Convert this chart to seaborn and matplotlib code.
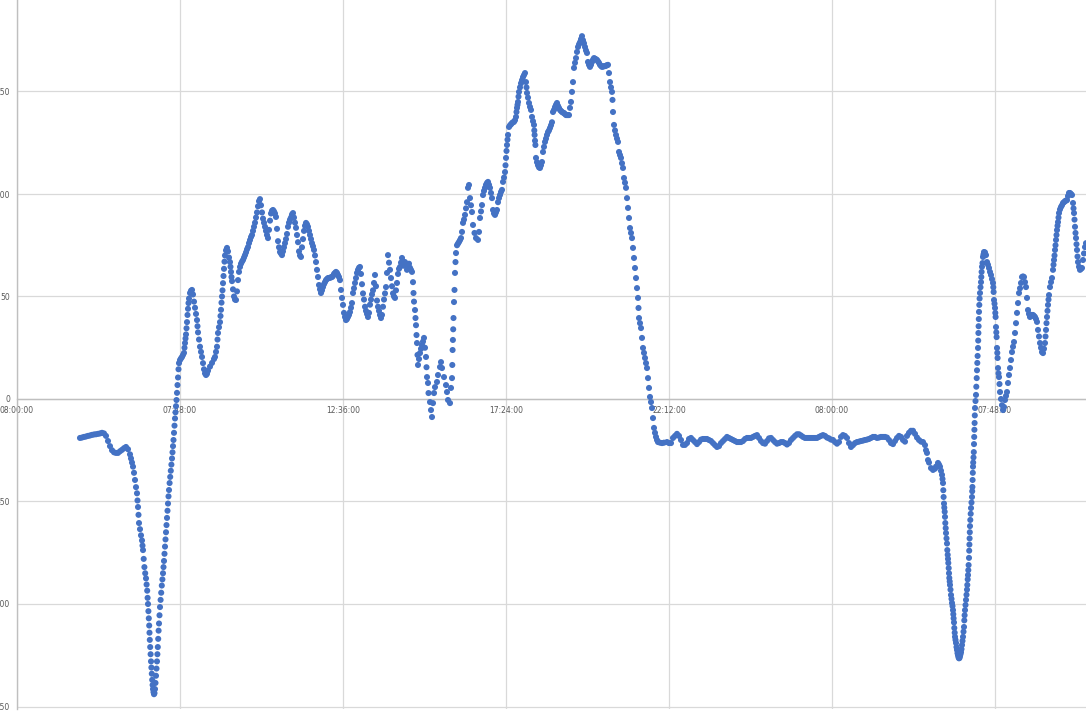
import matplotlib
matplotlib.use("Agg")
import matplotlib.pyplot as plt
import seaborn as sns
import pandas as pd

# ---------------- data (sample index, value) ----------------
seg_morning1 = [
    (80, -19.0), (82, -18.8), (84, -18.5), (86, -18.3), (88, -18.0), (90, -17.8), (92, -17.5), (94, -17.3),
    (96, -17.2), (98, -17.0), (100, -16.8), (102, -16.5), (104, -16.8), (106, -18.0), (108, -20.5), (110, -23.0),
    (112, -25.0), (114, -26.0), (116, -26.3), (118, -26.3), (120, -25.5), (122, -24.8), (124, -24.0), (126, -23.4),
    (128, -24.5), (130, -27.0), (131, -29.0), (132, -31.0), (133, -33.0), (134, -36.0), (135, -39.5), (136, -43.0),
    (137, -46.0), (137.5, -49.5), (138, -52.7), (138.5, -56.5), (139, -60.5), (140, -63.5), (141, -66.5),
    (142, -69.0), (142.5, -71.5), (143, -73.7), (143.7, -78.0), (144.4, -82.0), (145.2, -85.0), (146, -87.5),
    (146.6, -90.5), (147.2, -93.5), (147.6, -97.0), (148, -100.0), (148.4, -103.5), (148.8, -107.0),
    (149.2, -110.5), (149.5, -114.0), (149.8, -117.5), (150.2, -121.0), (150.6, -124.5), (151, -128.0),
    (151.4, -131.0), (151.8, -134.0), (152.2, -137.0), (152.6, -139.5), (153, -141.5), (153.5, -143.0),
    (154, -144.0), (154.5, -143.5), (155, -141.5), (155.5, -138.5), (156, -135.0), (156.5, -131.5),
    (157, -128.0), (157.4, -124.5), (157.8, -121.0), (158.2, -117.0), (158.6, -113.0), (159, -109.5),
    (159.5, -105.5), (160, -101.5), (160.6, -98.0), (161.2, -94.5), (161.8, -91.0), (162.4, -88.0),
    (163, -85.0), (163.5, -82.0), (164, -79.0), (164.5, -75.5), (165, -72.0), (165.5, -68.5), (166, -65.0),
    (166.5, -61.5), (167, -58.0), (167.5, -54.5), (168, -51.0), (168.5, -47.5), (169, -44.4), (169.6, -41.0),
    (170.2, -38.0), (170.8, -35.0), (171.4, -32.0), (172, -29.0), (172.5, -26.0), (173, -23.0), (173.5, -20.0),
    (174, -16.5), (174.5, -13.0), (175, -9.5), (175.5, -6.5), (176, -3.5), (176.5, -0.5), (177, 3.0),
    (177.5, 6.8), (178, 10.5), (178.5, 14.5), (179, 17.5),
]

seg_midday1 = [
    (180, 19.0), (181, 19.8), (182, 20.5), (183, 21.5), (184, 22.5), (184.5, 25.0), (185, 27.3), (185.5, 29.5),
    (186, 31.5), (186.5, 34.5), (187, 37.5), (187.5, 41.0), (188, 44.0), (188.5, 46.8), (189, 49.0), (190, 51.7),
    (191, 52.8), (192, 53.2), (193, 51.0), (194, 47.5), (195, 44.5), (196, 41.5), (197, 38.5), (197.5, 35.5),
    (198, 32.5), (199, 29.0), (200, 25.5), (201, 23.0), (202, 20.5), (203, 17.5), (204, 14.5), (205, 12.5),
    (206, 11.7), (207, 12.3), (208, 13.8), (210, 15.8), (212, 17.6), (214, 19.5), (215, 20.5), (216, 23.0),
    (217, 25.5), (217.5, 29.0), (218, 32.2), (219, 35.0), (220, 37.5), (220.5, 40.5), (221, 43.5), (221.5, 47.0),
    (222, 50.0), (222.5, 53.0), (223, 56.5), (223.5, 60.0), (224, 63.5), (224.5, 67.0), (225, 70.0), (226, 72.5),
    (227, 73.7), (228, 72.0), (229, 69.0), (230, 66.8), (230.5, 64.5), (231, 62.0), (231.5, 59.5), (232, 57.5),
    (233, 53.5), (234, 50.0), (235, 48.5), (236, 48.3), (237, 52.5), (238, 58.0), (239, 62.0), (240, 64.4),
    (241, 66.0), (242, 67.0), (243, 67.8), (244, 69.0), (245, 70.2), (246, 71.5), (247, 73.0), (248, 74.1),
    (249, 76.0), (250, 77.5), (251, 79.0), (252, 80.0), (253, 82.0), (254, 84.0), (255, 86.0), (256, 88.5),
    (257, 91.0), (258, 94.0), (259, 96.5), (260, 97.5), (261, 94.5), (262, 91.0), (263, 88.0), (264, 86.0),
    (265, 84.0), (266, 82.0), (267, 80.0), (268, 78.5), (269, 82.5), (270, 87.0), (271, 90.5), (272, 91.8),
    (273, 92.2), (274, 91.5), (275, 90.5), (276, 88.8), (277, 83.0), (278, 77.0), (279, 74.0), (280, 71.7),
    (281, 71.0), (282, 70.2), (283, 72.0), (284, 74.0), (285, 76.0), (286, 78.0), (287, 80.5), (288, 84.0),
    (289, 86.0), (290, 87.5), (291, 88.5), (292, 90.0), (293, 90.7), (294, 88.5), (295, 86.0), (296, 83.5),
    (297, 80.0), (298, 76.5), (299, 72.0), (300, 70.0), (301, 69.3), (302, 74.0), (303, 78.0), (304, 82.0),
    (305, 84.5), (306, 85.9), (307, 85.2), (308, 84.0), (309, 82.0), (310, 80.0), (311, 78.0), (312, 76.0),
    (313, 74.5), (314, 72.7), (315, 70.0), (316, 66.8), (317, 63.0), (318, 59.5), (319, 55.6), (320, 53.5),
    (321, 51.7), (322, 53.0), (323, 54.6), (324, 56.0), (325, 57.0), (326, 58.0), (327, 58.5), (328, 59.0),
    (329, 59.0), (330, 59.2), (331, 59.3), (332, 59.5), (333, 60.0), (334, 61.0), (335, 61.5), (336, 62.0),
    (337, 61.5), (338, 60.5), (339, 59.5), (340, 58.0), (341, 53.2), (342, 49.3), (343, 45.9), (344, 42.0),
    (345, 40.0), (346, 38.5), (347, 39.0), (348, 40.0), (349, 41.0), (350, 42.4), (351, 44.5), (352, 46.8),
    (353, 51.7), (354, 54.0), (355, 56.6), (356, 59.0), (357, 61.5), (358, 63.0), (359, 64.0), (360, 64.4),
    (361, 61.0), (362, 56.0), (363, 51.5), (364, 48.5), (365, 45.0), (366, 43.0), (367, 41.5), (368, 40.0),
    (369, 42.0), (370, 46.0), (371, 48.5), (372, 51.0), (373, 53.0), (374, 56.6), (375, 60.5), (376, 55.0),
    (377, 48.0), (378, 45.0), (379, 43.0), (380, 41.0), (381, 39.5), (382, 41.0), (383, 45.0), (384, 48.5),
    (385, 51.5), (386, 54.6), (387, 61.5), (388, 70.2), (389, 66.5), (390, 63.0), (391, 59.0), (392, 55.0),
    (393, 51.5), (394, 50.0), (395, 49.3), (396, 53.0), (397, 56.6), (398, 61.0), (399, 63.5), (400, 64.4),
    (401, 66.5), (402, 68.8), (403, 67.0), (404, 65.0), (405, 66.8), (406, 65.0), (407, 63.0), (408, 65.0),
    (409, 66.0), (410, 64.0), (411, 63.0), (412, 62.0), (413, 57.0), (413.5, 51.7), (414, 47.5), (415, 43.4),
    (415.5, 39.5), (416, 36.0), (416.5, 31.2), (417, 27.3), (417.5, 21.5), (418, 16.6), (419, 19.5), (420, 22.4),
    (421, 24.5), (422, 26.3), (423, 28.0), (424, 29.8), (425, 25.0), (426, 20.5), (426.5, 15.5), (427, 10.7),
    (428, 7.8), (428.5, 2.9), (430, -1.5), (431, -5.4), (432, -8.8), (433, -2.0), (434, 2.9), (435, 5.8),
    (437, 8.3), (438, 11.7), (440, 15.6), (441, 18.0), (442, 15.1), (444, 10.7), (446, 6.8), (447, 3.4),
    (448, -0.5), (450, -2.0), (451, 5.4), (452, 10.2), (452.3, 16.6), (452.6, 23.9), (452.9, 28.8),
    (453.2, 34.0), (453.5, 39.5), (454, 47.3), (454.5, 53.2),
]

seg_evening1 = [
    (455, 61.5), (455.5, 66.8), (456, 71.2), (457, 75.0), (458, 75.8), (459, 76.6), (460, 77.5), (461, 78.5),
    (462, 81.5), (463, 85.9), (464, 87.5), (465, 89.8), (466, 93.0), (467, 96.0), (468, 103.0), (469, 104.4),
    (470, 98.0), (471, 94.5), (472, 91.2), (473, 84.9), (474.5, 81.0), (476, 78.5), (478, 77.6), (479, 81.5),
    (480, 88.3), (481, 91.5), (482, 94.6), (483, 99.5), (484, 101.5), (485, 103.0), (486, 104.5), (487, 105.4),
    (488, 105.9), (489, 104.5), (490, 103.0), (491, 100.5), (492, 98.0), (493, 92.2), (494, 90.5), (495, 89.8),
    (496, 91.0), (497, 92.2), (498, 96.0), (499, 98.0), (500, 99.5), (501, 101.0), (502, 102.0), (503, 105.9),
    (504, 108.0), (505, 110.7), (505.5, 114.0), (506, 117.6), (506.5, 121.0), (507, 123.9), (507.5, 126.5),
    (508, 128.8), (509, 132.7), (510, 133.5), (511, 134.0), (512, 134.6), (513, 135.0), (514, 135.2),
    (515, 136.0), (516, 137.6), (516.5, 140.0), (517, 142.0), (517.5, 143.5), (518, 144.9), (518.5, 147.5),
    (519, 149.8), (520, 152.0), (521, 154.0), (522, 155.5), (523, 157.0), (524, 158.0), (525, 159.0),
    (526, 154.6), (526.5, 152.0), (527, 149.3), (528, 147.0), (529, 144.4), (530, 142.5), (531, 141.0),
    (532, 137.6), (533, 135.5), (534, 133.7), (534.3, 131.0), (534.6, 128.8), (535, 126.0), (535.4, 123.9),
    (536, 117.6), (537, 115.5), (538, 114.0), (539, 113.0), (540, 112.7), (541, 114.0), (542, 115.6),
    (543, 120.5), (544, 123.0), (545, 125.4), (546, 127.0), (547, 128.8), (548, 130.2), (549, 131.0),
    (550, 132.2), (551, 133.5), (552, 135.0), (553, 140.0), (554, 141.0), (555, 142.4), (556, 143.5),
    (557, 144.4), (558, 143.0), (559, 142.0), (560, 141.0), (561, 140.5), (562, 140.0), (563, 139.7),
    (564, 139.5), (565, 139.0), (566, 138.5), (567, 138.5), (568, 138.5), (569, 138.5), (570, 142.0),
    (571, 144.9), (572, 149.8), (573, 154.6), (574, 161.5), (575, 164.0), (576, 166.3), (577, 169.3),
    (578, 171.7), (579, 173.0), (580, 174.0), (581, 175.5), (582, 177.0), (583, 175.0), (584, 173.5),
    (585, 171.7), (586, 170.0), (587, 168.8), (588, 164.4), (589, 163.0), (590, 162.0), (591, 163.0),
    (592, 164.4), (593, 165.5), (594, 166.3), (595, 166.0), (596, 165.7), (597, 165.4), (598, 164.7),
    (599, 164.0), (600, 163.0), (601, 162.5), (602, 162.0), (603, 162.2), (604, 162.3), (605, 162.4),
    (606, 162.6), (607, 162.8), (608, 163.0), (609, 159.0), (610, 154.6), (611, 152.0), (612, 149.8),
    (612.5, 145.9), (613, 140.0), (614, 133.7), (615, 131.0), (616, 128.8), (617, 127.0), (618, 125.4),
    (619, 120.5), (620, 119.0), (621, 117.6), (622, 115.0), (623, 112.7), (624, 107.8), (625, 105.5),
    (626, 103.0), (627, 98.0), (628, 93.2), (629, 88.3), (630, 83.4), (631, 81.0), (632, 78.5), (633, 73.7),
    (634, 68.8), (635, 63.9), (636, 59.0), (637, 54.1), (638, 49.3), (638.5, 44.4), (639, 39.5), (640, 37.0),
    (641, 34.6), (642, 29.8), (643, 24.9), (644, 22.5), (645, 20.0), (646, 17.5), (647, 15.1), (648, 10.2),
    (649, 5.4), (650, 1.0), (651, -1.5), (652, -4.4), (653, -9.3), (654, -14.1), (655, -16.5), (656, -18.5),
    (657, -20.0), (658, -21.0),
]

seg_night = [
    (660, -21.3), (662, -21.5), (664, -21.3), (667, -21.0), (669, -21.5), (671, -21.5), (673, -19.0),
    (675, -18.0), (677, -17.0), (679, -18.0), (681, -20.0), (683, -22.4), (685, -22.4), (687, -21.5),
    (689, -19.5), (691, -19.0), (693, -20.0), (695, -21.0), (697, -22.0), (699, -21.0), (701, -19.8),
    (703, -19.5), (705, -19.5), (707, -19.5), (709, -20.0), (711, -20.5), (713, -21.5), (715, -22.5),
    (717, -23.4), (719, -23.0), (721, -21.5), (723, -20.5), (725, -19.5), (727, -18.5), (729, -19.0),
    (731, -19.5), (733, -20.0), (735, -20.5), (737, -21.0), (739, -21.0), (741, -21.0), (743, -20.5),
    (745, -19.5), (747, -19.0), (749, -19.0), (751, -19.0), (753, -18.5), (755, -18.0), (757, -17.6),
    (759, -19.0), (761, -20.5), (763, -21.5), (765, -21.8), (767, -20.5), (769, -19.2), (771, -19.0),
    (773, -20.0), (775, -21.0), (777, -21.8), (779, -21.5), (781, -21.0), (783, -21.0), (785, -21.5),
    (787, -22.2), (789, -21.5), (791, -20.0), (793, -19.0), (795, -18.0), (797, -17.2), (799, -17.2),
    (801, -17.8), (803, -18.5), (805, -19.0), (807, -19.0), (809, -19.0), (811, -19.0), (813, -19.0),
    (815, -19.0), (817, -19.0), (819, -18.5), (821, -18.0), (823, -17.6), (825, -18.0), (827, -18.8),
    (829, -19.2), (831, -19.8), (833, -20.0), (835, -21.0), (837, -21.8), (839, -21.0), (841, -18.5),
    (843, -17.6), (845, -18.0), (847, -19.0), (849, -21.5), (851, -23.4), (853, -22.5), (855, -21.5),
    (857, -21.0), (859, -20.8), (861, -20.5), (863, -20.3), (865, -20.0), (867, -19.8), (869, -19.5),
    (871, -19.0), (873, -18.5), (875, -18.5), (877, -19.0), (879, -18.8), (881, -18.5), (883, -18.5),
    (885, -18.5), (887, -18.8), (889, -20.0), (891, -21.5), (893, -22.0), (895, -20.5), (897, -19.0),
    (899, -18.0), (901, -18.5), (903, -20.0), (905, -20.8), (907, -18.0), (909, -16.5), (911, -15.5),
    (913, -15.5), (915, -17.0), (917, -18.8), (919, -20.0), (921, -20.8), (923, -21.0),
]

seg_morning2 = [
    (925, -22.5), (926, -25.0), (927, -26.3), (928, -29.8), (929, -31.0), (931, -33.7), (933, -34.6),
    (935, -34.0), (936, -33.0), (938, -31.2), (939, -32.0), (940, -33.0), (941, -35.0), (942, -37.0),
    (942.5, -39.0), (943, -41.0), (943.3, -44.5), (943.6, -47.8), (944, -51.0), (944.3, -53.0), (944.7, -55.0),
    (945, -57.5), (945.3, -60.5), (945.7, -63.0), (946, -65.4), (946.5, -68.0), (947, -70.5), (947.3, -73.7),
    (947.7, -76.0), (948, -78.0), (948.3, -80.0), (948.7, -82.5), (949, -85.0), (949.3, -87.3), (949.7, -89.0),
    (950, -90.7), (950.5, -93.0), (951, -95.6), (951.5, -97.5), (952, -99.5), (952.5, -101.0), (953, -103.0),
    (953.3, -105.0), (953.6, -107.0), (954, -109.0), (954.3, -111.7), (954.7, -114.0), (955, -116.0),
    (955.5, -117.5), (956, -119.0), (956.5, -121.0), (957, -122.4), (957.5, -124.0), (958, -125.0),
    (958.5, -126.0), (959, -126.5), (959.5, -126.3), (960, -125.5), (960.5, -124.5), (961, -123.5),
    (961.5, -122.0), (962, -120.0), (962.5, -118.0), (963, -116.0), (963.5, -113.5), (964, -111.2),
    (964.3, -108.0), (964.6, -105.5), (965, -103.0), (965.5, -100.5), (966, -98.0), (966.5, -95.5),
    (967, -93.0), (967.3, -90.7), (967.7, -88.0), (968, -85.9), (968.3, -83.5), (968.6, -81.0), (969, -77.5),
    (969.2, -74.0), (969.4, -71.0), (969.6, -68.0), (969.8, -65.0), (970, -62.0), (970.3, -59.0),
    (970.7, -56.0), (971, -53.2), (971.5, -50.5), (972, -47.8), (972.2, -45.0), (972.4, -42.9), (972.6, -39.5),
    (972.8, -36.0), (973, -33.0), (973.2, -31.0), (973.5, -28.5), (973.8, -25.9), (974, -22.0), (974.2, -18.5),
    (974.4, -15.0), (974.6, -11.7), (974.8, -8.0), (975, -4.4), (975.5, -1.0), (976, 2.0), (976.3, 6.0),
    (976.7, 10.2), (977, 14.0), (977.3, 17.6), (977.6, 21.0), (978, 24.9), (978.2, 28.5), (978.4, 32.2),
    (978.6, 35.5), (978.8, 39.0), (979, 42.5), (979.3, 45.9), (979.6, 49.0), (980, 51.7), (980.5, 54.5),
    (981, 57.0), (981.3, 59.5), (981.6, 62.0), (982, 64.5), (982.5, 66.3), (983, 69.3), (983.5, 70.5),
    (984, 71.7), (985, 71.5), (986, 70.2), (987, 66.8), (988, 65.5), (989, 63.9), (990, 62.0), (991, 60.5),
    (992, 58.5), (993, 56.6), (993.3, 54.5), (993.6, 52.2), (994, 48.3), (994.5, 46.5), (995, 44.4),
    (995.3, 42.0), (995.6, 40.0), (996, 35.1), (996.3, 32.5), (996.6, 30.2), (997, 24.9), (997.3, 22.5),
    (997.6, 20.0), (998, 15.1), (998.5, 12.5), (999, 10.7), (999.5, 7.3), (1000, 3.4), (1001, 0.0),
    (1002, -3.0), (1003, -5.4), (1004, -3.9), (1005, -0.5), (1006, 1.5), (1007, 3.4), (1008, 7.8),
    (1009, 11.7), (1010, 15.1), (1011, 19.0), (1012, 22.9), (1013, 25.5), (1014, 27.8), (1015, 32.2),
    (1016, 37.0), (1017, 42.0), (1018, 46.8), (1019, 51.7), (1020, 54.0), (1021, 56.6), (1022, 59.5),
    (1023, 59.8), (1024, 59.5), (1025, 57.0), (1026, 54.6), (1027, 49.3), (1028, 43.4), (1029, 41.5),
    (1030, 40.0), (1031, 40.5), (1032, 41.0), (1033, 41.0), (1034, 40.5), (1035, 40.0), (1036, 39.0),
    (1037, 37.6), (1038, 33.7), (1039, 30.5), (1040, 27.3), (1041, 25.0), (1042, 22.9), (1043, 22.4),
    (1044, 24.5), (1045, 27.3), (1045.5, 30.5), (1046, 33.7), (1046.5, 37.0), (1047, 40.0), (1047.5, 43.0),
    (1048, 45.9), (1048.5, 48.5), (1049, 50.7), (1050, 54.6), (1051, 57.0), (1052, 59.0), (1053, 63.0),
    (1053.5, 65.5), (1054, 67.8), (1054.5, 70.0), (1055, 72.7), (1055.5, 75.0), (1056, 77.6), (1056.5, 80.0),
    (1057, 82.4), (1057.5, 84.5), (1058, 86.3), (1058.5, 88.5), (1059, 90.7), (1060, 92.5), (1061, 93.7),
    (1062, 94.5), (1063, 95.6), (1064, 96.0), (1065, 96.5), (1066, 96.8), (1067, 97.0), (1068, 99.0),
    (1069, 100.5), (1070, 100.5), (1071, 100.0), (1072, 99.5), (1073, 95.6), (1073.5, 93.0), (1074, 90.7),
    (1074.5, 87.5), (1075, 84.0), (1075.5, 81.0), (1076, 78.5), (1076.5, 75.5), (1077, 72.7), (1077.5, 69.5),
    (1078, 66.8), (1079, 64.5), (1080, 63.0), (1081, 63.5), (1082, 63.9), (1083, 67.8), (1084, 71.0),
    (1085, 74.1), (1086, 76.0),
]

tick_samples = [17, 180, 343, 506, 669, 832, 995]
tick_labels = ["08:00:00", "07:48:00", "12:36:00", "17:24:00", "22:12:00", "08:00:00", "07:48:00"]
y_ticks = [-150, -100, -50, 0, 50, 100, 150, 200]

# ---------------- figure ----------------
sns.set_style("white")
plt.rcParams["font.family"] = ["DejaVu Sans"]
plt.rcParams["axes.unicode_minus"] = False

W, H = 1086, 724
fig = plt.figure(figsize=(W / 100, H / 100), dpi=100)

x_lo, x_hi = 17, 1100
y_lo, y_hi = -151, 200
px_per_unit = 102.5 / 50
y_zero_px = 399
bottom_px = y_zero_px - y_lo * px_per_unit          # pixel row of y_lo (from top)
top_px = y_zero_px - y_hi * px_per_unit
ax = fig.add_axes([x_lo / W, (H - bottom_px) / H, (x_hi - x_lo) / W, (bottom_px - top_px) / H])

rows = [p for seg in (seg_morning1, seg_midday1, seg_evening1, seg_night, seg_morning2) for p in seg]
df = pd.DataFrame(rows, columns=["sample", "value"])

sns.scatterplot(data=df, x="sample", y="value", ax=ax, s=19, color="#4472C4",
                linewidth=0, edgecolor="none", zorder=3, legend=False)

ax.set_xlim(x_lo, x_hi)
ax.set_ylim(y_lo, y_hi)
ax.set_xticks(tick_samples)
ax.set_xticklabels(tick_labels)
ax.set_yticks(y_ticks)
ax.set_yticklabels([str(v) for v in y_ticks])
ax.set_xlabel("")
ax.set_ylabel("")

ax.set_axisbelow(True)
ax.grid(True, color="#d9d9d9", linewidth=0.9)
for s in ("top", "right"):
    ax.spines[s].set_visible(False)
ax.spines["left"].set_color("#bfbfbf")
ax.spines["left"].set_linewidth(1.0)
ax.spines["bottom"].set_position(("data", 0))
ax.spines["bottom"].set_color("#bfbfbf")
ax.spines["bottom"].set_linewidth(1.0)
ax.tick_params(axis="both", length=0, labelsize=5.5, colors="#595959")
ax.tick_params(axis="x", pad=5)
ax.tick_params(axis="y", pad=5)
ax.patch.set_alpha(0)

fig.savefig("out.png", dpi=100)
